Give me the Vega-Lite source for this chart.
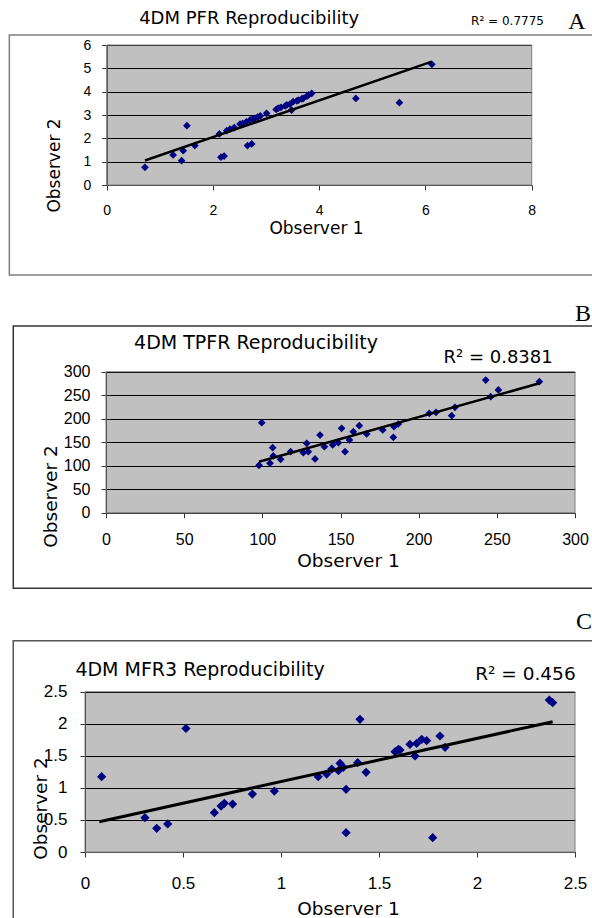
{
  "$schema": "https://vega.github.io/schema/vega-lite/v6.json",
  "width": 592,
  "height": 918,
  "autosize": {"type": "none"},
  "padding": 0,
  "background": "white",
  "config": {
    "view": {"stroke": null},
    "axis": {
      "labelFont": "Liberation Sans",
      "titleFont": "DejaVu Sans",
      "titleFontWeight": "normal",
      "labelColor": "#000",
      "titleColor": "#000",
      "domainColor": "#333",
      "tickColor": "#333",
      "tickSize": 5,
      "gridColor": "#000",
      "gridOpacity": 1,
      "gridWidth": 1,
      "labelFlush": false,
      "labelOverlap": false,
      "titleBaseline": "middle"
    }
  },
  "datasets": {
    "pfr": [
      {"x": 0.72, "y": 0.76}, {"x": 1.25, "y": 1.29}, {"x": 1.41, "y": 1.04}, {"x": 1.44, "y": 1.47},
      {"x": 1.51, "y": 2.54}, {"x": 1.66, "y": 1.69}, {"x": 2.12, "y": 2.19}, {"x": 2.15, "y": 1.19},
      {"x": 2.21, "y": 1.24}, {"x": 2.26, "y": 2.33}, {"x": 2.32, "y": 2.39}, {"x": 2.40, "y": 2.46},
      {"x": 2.51, "y": 2.61}, {"x": 2.56, "y": 2.64}, {"x": 2.63, "y": 2.71}, {"x": 2.65, "y": 1.69},
      {"x": 2.70, "y": 2.79}, {"x": 2.73, "y": 1.76}, {"x": 2.75, "y": 2.83}, {"x": 2.79, "y": 2.86},
      {"x": 2.84, "y": 2.91}, {"x": 2.89, "y": 2.96}, {"x": 3.01, "y": 3.07}, {"x": 3.19, "y": 3.24},
      {"x": 3.23, "y": 3.29}, {"x": 3.28, "y": 3.33}, {"x": 3.36, "y": 3.39}, {"x": 3.39, "y": 3.43},
      {"x": 3.45, "y": 3.47}, {"x": 3.48, "y": 3.21}, {"x": 3.51, "y": 3.57}, {"x": 3.58, "y": 3.61},
      {"x": 3.61, "y": 3.64}, {"x": 3.67, "y": 3.69}, {"x": 3.70, "y": 3.71}, {"x": 3.77, "y": 3.81},
      {"x": 3.80, "y": 3.86}, {"x": 3.86, "y": 3.93}, {"x": 4.69, "y": 3.71}, {"x": 5.51, "y": 3.53},
      {"x": 6.12, "y": 5.17}
    ],
    "pfr_fit": [{"x": 0.72, "y": 1.05}, {"x": 6.12, "y": 5.29}],
    "tpfr": [
      {"x": 97.9, "y": 100.9}, {"x": 99.6, "y": 191.6}, {"x": 104.9, "y": 105.4}, {"x": 106.6, "y": 138.5},
      {"x": 107.0, "y": 120.8}, {"x": 111.7, "y": 113.7}, {"x": 118.1, "y": 130.0}, {"x": 126.2, "y": 127.9},
      {"x": 128.4, "y": 147.7}, {"x": 129.4, "y": 130.0}, {"x": 133.7, "y": 114.4}, {"x": 136.9, "y": 165.4},
      {"x": 139.7, "y": 140.6}, {"x": 145.0, "y": 144.2}, {"x": 148.6, "y": 149.1}, {"x": 150.7, "y": 179.6},
      {"x": 152.9, "y": 130.0}, {"x": 155.7, "y": 154.8}, {"x": 158.2, "y": 172.5}, {"x": 162.0, "y": 185.3},
      {"x": 166.7, "y": 167.6}, {"x": 177.0, "y": 176.1}, {"x": 183.8, "y": 160.5}, {"x": 184.2, "y": 183.1},
      {"x": 187.0, "y": 188.8}, {"x": 206.8, "y": 211.5}, {"x": 211.1, "y": 213.6}, {"x": 221.1, "y": 206.5},
      {"x": 223.2, "y": 224.2}, {"x": 242.9, "y": 282.3}, {"x": 246.1, "y": 246.9}, {"x": 251.0, "y": 261.1},
      {"x": 277.2, "y": 278.8}
    ],
    "tpfr_fit": [{"x": 97.9, "y": 108.7}, {"x": 277.2, "y": 275.3}],
    "mfr3": [
      {"x": 0.085, "y": 1.175}, {"x": 0.306, "y": 0.535}, {"x": 0.366, "y": 0.369}, {"x": 0.422, "y": 0.437},
      {"x": 0.515, "y": 1.928}, {"x": 0.660, "y": 0.613}, {"x": 0.694, "y": 0.717}, {"x": 0.711, "y": 0.759},
      {"x": 0.753, "y": 0.748}, {"x": 0.854, "y": 0.904}, {"x": 0.966, "y": 0.951}, {"x": 1.190, "y": 1.175},
      {"x": 1.233, "y": 1.216}, {"x": 1.259, "y": 1.294}, {"x": 1.293, "y": 1.268}, {"x": 1.301, "y": 1.383},
      {"x": 1.318, "y": 1.320}, {"x": 1.332, "y": 0.977}, {"x": 1.332, "y": 0.301}, {"x": 1.391, "y": 1.393},
      {"x": 1.403, "y": 2.069}, {"x": 1.434, "y": 1.242}, {"x": 1.582, "y": 1.564}, {"x": 1.599, "y": 1.601},
      {"x": 1.607, "y": 1.590}, {"x": 1.658, "y": 1.679}, {"x": 1.684, "y": 1.497}, {"x": 1.692, "y": 1.694},
      {"x": 1.718, "y": 1.757}, {"x": 1.743, "y": 1.736}, {"x": 1.774, "y": 0.223}, {"x": 1.811, "y": 1.809},
      {"x": 1.837, "y": 1.632}, {"x": 2.369, "y": 2.370}, {"x": 2.386, "y": 2.328}
    ],
    "mfr3_fit": [{"x": 0.073, "y": 0.473}, {"x": 2.386, "y": 2.032}]
  },
  "layer": [
    {
      "layer": [
        {
          "data": {"values": [{}]},
          "mark": {"type": "rect", "fill": "#000", "fillOpacity": 0.247, "stroke": "#808080", "strokeWidth": 1},
          "encoding": {
            "x": {"datum": 0, "type": "quantitative"}, "x2": {"datum": 8},
            "y": {"datum": 0, "type": "quantitative"}, "y2": {"datum": 6}
          }
        },
        {
          "data": {"values": [{}]},
          "mark": {"type": "rect", "fill": "white", "fillOpacity": 0, "stroke": "#808080", "strokeWidth": 1.5},
          "encoding": {
            "x": {"datum": -1.833, "type": "quantitative"}, "x2": {"datum": 9.3},
            "y": {"datum": -3.857, "type": "quantitative"}, "y2": {"datum": 6.429}
          }
        },
        {
          "data": {"name": "pfr"},
          "mark": {"type": "point", "shape": "diamond", "filled": true, "color": "#000080", "size": 60, "opacity": 1},
          "encoding": {
            "x": {
              "field": "x", "type": "quantitative",
              "scale": {"domain": [0, 8], "range": [106.7, 531.7], "nice": false, "zero": false},
              "axis": {"orient": "bottom", "offset": -733, "values": [0, 2, 4, 6, 8], "format": "d", "grid": false,
                "title": "Observer 1", "titleFontSize": 17, "titleX": 316, "titleY": 43,
                "labelFontSize": 14, "labelBaseline": "middle", "labelPadding": 20}
            },
            "y": {
              "field": "y", "type": "quantitative",
              "scale": {"domain": [0, 6], "range": [185, 45], "nice": false, "zero": false},
              "axis": {"orient": "left", "offset": -106.7, "values": [0, 1, 2, 3, 4, 5, 6], "format": "d", "grid": true,
                "title": "Observer 2", "titleFontSize": 17, "titleX": -51.7, "titleY": 165,
                "labelFontSize": 14, "labelPadding": 11}
            }
          }
        },
        {
          "data": {"name": "pfr_fit"},
          "mark": {"type": "line", "color": "#000", "strokeWidth": 2.5},
          "encoding": {"x": {"field": "x", "type": "quantitative"}, "y": {"field": "y", "type": "quantitative"}}
        },
        {
          "data": {"values": [{}]},
          "mark": {"type": "text", "text": "4DM PFR Reproducibility", "font": "DejaVu Sans", "fontSize": 18, "align": "center", "baseline": "middle"},
          "encoding": {"x": {"datum": 2.682, "type": "quantitative"}, "y": {"datum": 7.114, "type": "quantitative"}}
        },
        {
          "data": {"values": [{}]},
          "mark": {"type": "text", "text": "R² = 0.7775", "font": "DejaVu Sans", "fontSize": 12, "align": "center", "baseline": "middle"},
          "encoding": {"x": {"datum": 7.545, "type": "quantitative"}, "y": {"datum": 7.03, "type": "quantitative"}}
        },
        {
          "data": {"values": [{}]},
          "mark": {"type": "text", "text": "A", "font": "Liberation Serif", "fontSize": 24, "align": "center", "baseline": "middle"},
          "encoding": {"x": {"datum": 8.853, "type": "quantitative"}, "y": {"datum": 7.007, "type": "quantitative"}}
        }
      ]
    },
    {
      "layer": [
        {
          "data": {"values": [{}]},
          "mark": {"type": "rect", "fill": "#000", "fillOpacity": 0.247, "stroke": "#808080", "strokeWidth": 1},
          "encoding": {
            "x": {"datum": 0, "type": "quantitative"}, "x2": {"datum": 300},
            "y": {"datum": 0, "type": "quantitative"}, "y2": {"datum": 300}
          }
        },
        {
          "data": {"values": [{}]},
          "mark": {"type": "rect", "fill": "white", "fillOpacity": 0, "stroke": "#333", "strokeWidth": 1.5},
          "encoding": {
            "x": {"datum": -59.3, "type": "quantitative"}, "x2": {"datum": 316},
            "y": {"datum": -160.5, "type": "quantitative"}, "y2": {"datum": 397.2}
          }
        },
        {
          "data": {"name": "tpfr"},
          "mark": {"type": "point", "shape": "diamond", "filled": true, "color": "#000080", "size": 60, "opacity": 1},
          "encoding": {
            "x": {
              "field": "x", "type": "quantitative",
              "scale": {"domain": [0, 300], "range": [106, 575], "nice": false, "zero": false},
              "axis": {"orient": "bottom", "offset": -405.2, "values": [0, 50, 100, 150, 200, 250, 300], "format": "d", "grid": false,
                "title": "Observer 1", "titleFontSize": 18.5, "titleX": 348, "titleY": 48,
                "labelFontSize": 16, "labelBaseline": "middle", "labelPadding": 22}
            },
            "y": {
              "field": "y", "type": "quantitative",
              "scale": {"domain": [0, 300], "range": [512.8, 371.7], "nice": false, "zero": false},
              "axis": {"orient": "left", "offset": -106, "values": [0, 50, 100, 150, 200, 250, 300], "format": "d", "grid": true,
                "title": "Observer 2", "titleFontSize": 18.5, "titleX": -56, "titleY": 496,
                "labelFontSize": 16, "labelPadding": 11}
            }
          }
        },
        {
          "data": {"name": "tpfr_fit"},
          "mark": {"type": "line", "color": "#000", "strokeWidth": 2.5},
          "encoding": {"x": {"field": "x", "type": "quantitative"}, "y": {"field": "y", "type": "quantitative"}}
        },
        {
          "data": {"values": [{}]},
          "mark": {"type": "text", "text": "4DM TPFR Reproducibility", "font": "DejaVu Sans", "fontSize": 19, "align": "center", "baseline": "middle"},
          "encoding": {"x": {"datum": 95.95, "type": "quantitative"}, "y": {"datum": 361, "type": "quantitative"}}
        },
        {
          "data": {"values": [{}]},
          "mark": {"type": "text", "text": "R² = 0.8381", "font": "DejaVu Sans", "fontSize": 18, "align": "center", "baseline": "middle"},
          "encoding": {"x": {"datum": 250.8, "type": "quantitative"}, "y": {"datum": 329, "type": "quantitative"}}
        },
        {
          "data": {"values": [{}]},
          "mark": {"type": "text", "text": "B", "font": "Liberation Serif", "fontSize": 24, "align": "center", "baseline": "middle"},
          "encoding": {"x": {"datum": 305.1, "type": "quantitative"}, "y": {"datum": 422.7, "type": "quantitative"}}
        }
      ]
    },
    {
      "layer": [
        {
          "data": {"values": [{}]},
          "mark": {"type": "rect", "fill": "#000", "fillOpacity": 0.247, "stroke": "#808080", "strokeWidth": 1},
          "encoding": {
            "x": {"datum": 0, "type": "quantitative"}, "x2": {"datum": 2.5},
            "y": {"datum": 0, "type": "quantitative"}, "y2": {"datum": 2.5}
          }
        },
        {
          "data": {"values": [{}]},
          "mark": {"type": "rect", "fill": "white", "fillOpacity": 0, "stroke": "#555", "strokeWidth": 1.5},
          "encoding": {
            "x": {"datum": -0.366, "type": "quantitative"}, "x2": {"datum": 2.64},
            "y": {"datum": -1.216, "type": "quantitative"}, "y2": {"datum": 3.295}
          }
        },
        {
          "data": {"name": "mfr3"},
          "mark": {"type": "point", "shape": "diamond", "filled": true, "color": "#000080", "size": 85, "opacity": 1},
          "encoding": {
            "x": {
              "field": "x", "type": "quantitative",
              "scale": {"domain": [0, 2.5], "range": [85, 575], "nice": false, "zero": false},
              "axis": {"orient": "bottom", "offset": -66, "values": [0, 0.5, 1, 1.5, 2, 2.5], "format": "~r", "grid": false,
                "title": "Observer 1", "titleFontSize": 18.5, "titleX": 348, "titleY": 56,
                "labelFontSize": 17, "labelBaseline": "middle", "labelPadding": 26}
            },
            "y": {
              "field": "y", "type": "quantitative",
              "scale": {"domain": [0, 2.5], "range": [852, 691.7], "nice": false, "zero": false},
              "axis": {"orient": "left", "offset": -85, "values": [0, 0.5, 1, 1.5, 2, 2.5], "format": "~r", "grid": true,
                "title": "Observer 2", "titleFontSize": 18.5, "titleX": -45, "titleY": 808,
                "labelFontSize": 17, "labelPadding": 13}
            }
          }
        },
        {
          "data": {"name": "mfr3_fit"},
          "mark": {"type": "line", "color": "#000", "strokeWidth": 3},
          "encoding": {"x": {"field": "x", "type": "quantitative"}, "y": {"field": "y", "type": "quantitative"}}
        },
        {
          "data": {"values": [{}]},
          "mark": {"type": "text", "text": "4DM MFR3 Reproducibility", "font": "DejaVu Sans", "fontSize": 19, "align": "center", "baseline": "middle"},
          "encoding": {"x": {"datum": 0.587, "type": "quantitative"}, "y": {"datum": 2.831, "type": "quantitative"}}
        },
        {
          "data": {"values": [{}]},
          "mark": {"type": "text", "text": "R² = 0.456", "font": "DejaVu Sans", "fontSize": 18.5, "align": "center", "baseline": "middle"},
          "encoding": {"x": {"datum": 2.247, "type": "quantitative"}, "y": {"datum": 2.776, "type": "quantitative"}}
        },
        {
          "data": {"values": [{}]},
          "mark": {"type": "text", "text": "C", "font": "Liberation Serif", "fontSize": 24, "align": "center", "baseline": "middle"},
          "encoding": {"x": {"datum": 2.546, "type": "quantitative"}, "y": {"datum": 3.587, "type": "quantitative"}}
        }
      ]
    }
  ],
  "resolve": {
    "scale": {"x": "independent", "y": "independent"},
    "axis": {"x": "independent", "y": "independent"}
  }
}
